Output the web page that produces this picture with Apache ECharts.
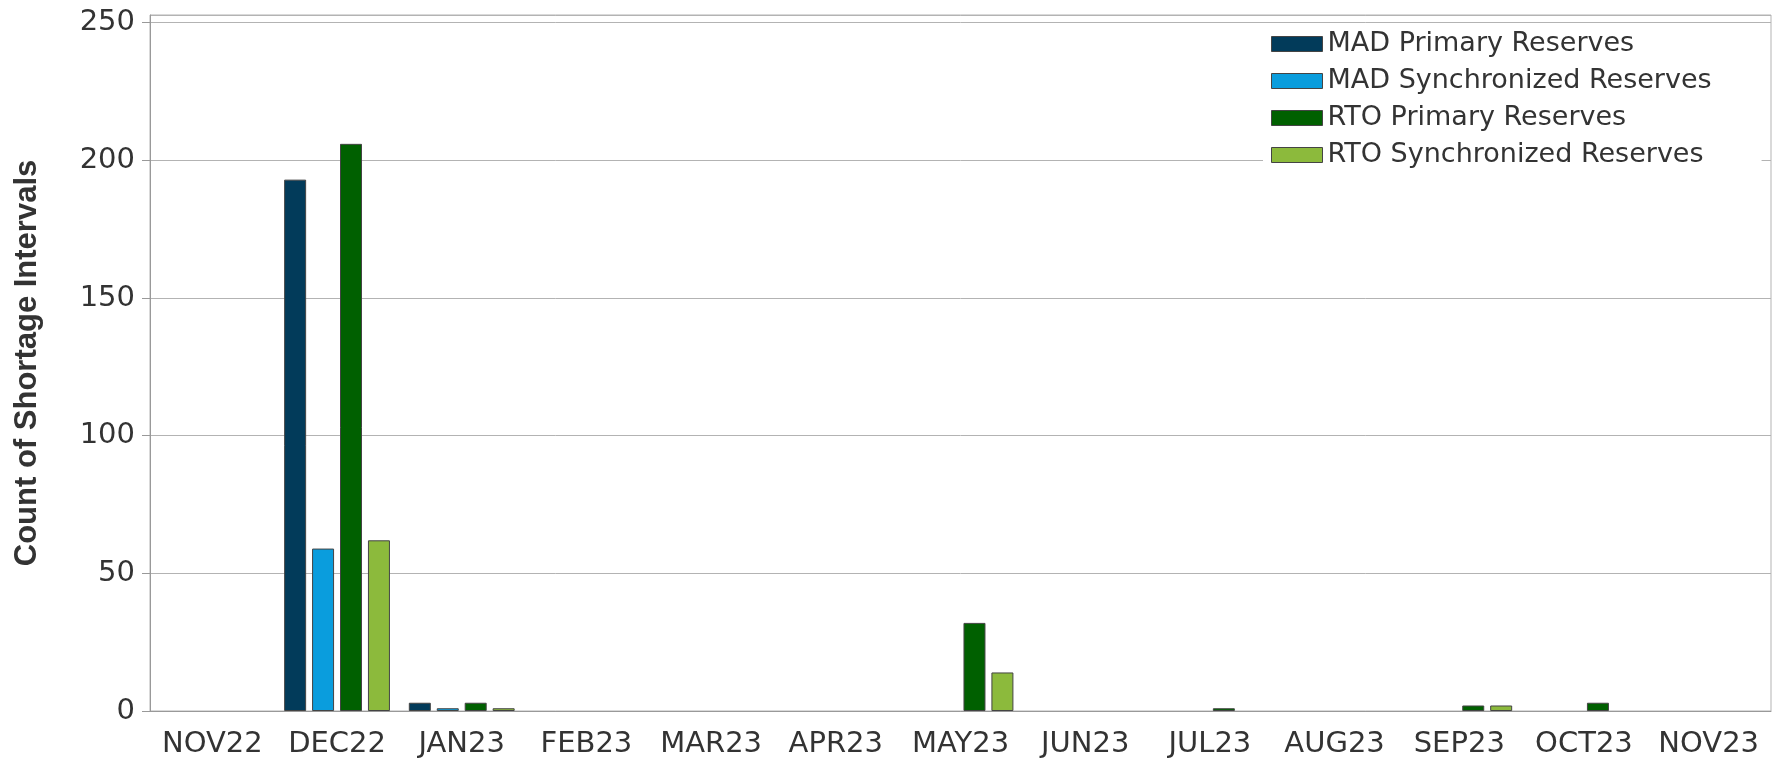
<!DOCTYPE html>
<html>
<head>
<meta charset="utf-8">
<script src="https://cdn.jsdelivr.net/npm/echarts@6/dist/echarts.min.js"></script>
<style>
html,body{margin:0;padding:0;background:#fff;}
#chart{width:1778px;height:764px;}
</style>
</head>
<body>
<div id="chart"></div>
<script>
const months = ['NOV22','DEC22','JAN23','FEB23','MAR23','APR23','MAY23','JUN23','JUL23','AUG23','SEP23','OCT23','NOV23'];
const madPrimary = [0,193,3,0,0,0,0,0,0,0,0,0,0];
const madSync    = [0,59,1,0,0,0,0,0,0,0,0,0,0];
const rtoPrimary = [0,206,3,0,0,0,32,0,1,0,2,3,0];
const rtoSync    = [0,62,1,0,0,0,14,0,0,0,2,0,0];
const seriesNames = ['MAD Primary Reserves','MAD Synchronized Reserves','RTO Primary Reserves','RTO Synchronized Reserves'];
const seriesColors = ['#023b5a','#0a9ddd','#006000','#8cba3c'];
const yTicks = {min:0, max:250, step:50};

const chart = echarts.init(document.getElementById('chart'), null, {renderer:'canvas'});
const allData = [madPrimary, madSync, rtoPrimary, rtoSync];
const tickFont = "'DejaVu Sans', Verdana, sans-serif";
const option = {
  backgroundColor:'#ffffff',
  animation:false,
  grid:{left:150, right:7, top:15, bottom:53, show:true, borderColor:'#b3b3b3', borderWidth:1, backgroundColor:'transparent', containLabel:false},
  legend:{
    orient:'vertical', left:1263, top:26,
    padding:[4,50,8,8],
    backgroundColor:'#ffffff',
    icon:'rect',
    itemWidth:51, itemHeight:15, itemGap:9,
    textStyle:{fontFamily:tickFont, fontSize:27, color:'#333333', lineHeight:28},
    data:seriesNames.map((n,i)=>({name:n, itemStyle:{color:seriesColors[i], borderColor:'#444', borderWidth:1}}))
  },
  xAxis:{
    type:'category', data:months,
    axisLine:{show:true, lineStyle:{color:'#999999', width:1}},
    axisTick:{show:false},
    axisLabel:{fontFamily:tickFont, fontSize:29, color:'#333333', margin:19, interval:0}
  },
  yAxis:{
    type:'value', min:yTicks.min, max:252.8, interval:yTicks.step,
    name:'Count of Shortage Intervals', nameLocation:'middle', nameGap:107,
    nameTextStyle:{fontFamily:"'Liberation Sans', Arial, sans-serif", fontWeight:'bold', fontSize:31, color:'#333333'},
    axisLine:{show:true, lineStyle:{color:'#999999', width:1}},
    axisTick:{show:true, length:8, lineStyle:{color:'#999999'}},
    axisLabel:{fontFamily:tickFont, fontSize:29, color:'#333333', margin:15, showMaxLabel:false},
    splitLine:{show:true, lineStyle:{color:'#b3b3b3', width:1}}
  },
  series: allData.map((arr,i)=>({
    name:seriesNames[i], type:'bar',
    data:arr.map(v=> v===0 ? '-' : v),
    barWidth:22, barGap:'27%',
    itemStyle:{color:seriesColors[i], borderColor:'#444444', borderWidth:1}
  }))
};
chart.setOption(option);
</script>
</body>
</html>
